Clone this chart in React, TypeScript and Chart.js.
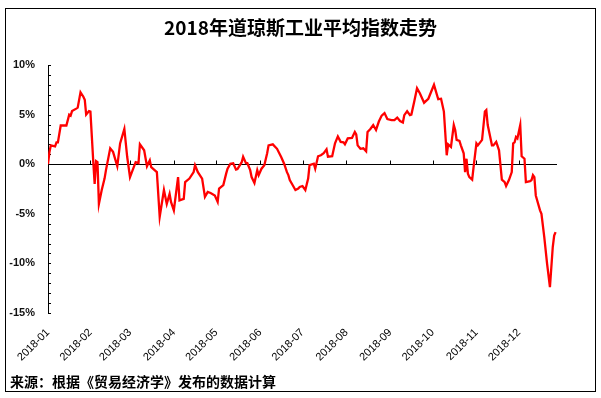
import React, { useEffect, useRef } from "react";
import { Chart, registerables } from "chart.js";

Chart.register(...registerables);

const chartTitle = "2018年道琼斯工业平均指数走势";
const sourceNote = "来源：根据《贸易经济学》发布的数据计算";

// x = day of year 2018 (Jan 1 = 1)
const monthStartDays = [2, 32, 60, 91, 121, 152, 182, 213, 244, 274, 305, 335];
const monthLabels = [
  "2018-01", "2018-02", "2018-03", "2018-04", "2018-05", "2018-06",
  "2018-07", "2018-08", "2018-09", "2018-10", "2018-11", "2018-12",
];
const yMin = -15;
const yMax = 10;
const xMin = 2;
const xMax = 362;

const tradeDays = [
  2, 3, 4, 7, 8, 9, 11, 15, 17, 18, 19, 22, 23, 25, 27, 28, 29, 31, 32, 33, 34, 35, 36, 37, 38, 40,
  42, 43, 46, 48, 51, 53, 56, 58, 60, 62, 64, 66, 67, 70, 72, 74, 75, 77, 79, 81, 84, 86, 88, 89,
  91, 94, 95, 98, 99, 102, 105, 106, 108, 111, 113, 115, 117, 120, 122, 123, 126, 128, 129, 131,
  133, 135, 136, 139, 140, 142, 143, 145, 146, 148, 150, 151, 153, 155, 157, 158, 161, 164, 167,
  169, 171, 172, 173, 175, 177, 179, 180, 182, 184, 186, 187, 190, 191, 193, 195, 197, 199, 200,
  203, 205, 207, 209, 211, 212, 214, 217, 219, 220, 221, 223, 225, 227, 228, 230, 232, 234, 236,
  238, 240, 242, 245, 247, 249, 251, 253, 254, 256, 258, 259, 261, 263, 265, 268, 271, 273, 275,
  278, 280, 282, 284, 285, 287, 289, 290, 291, 293, 294, 296, 297, 298, 299, 300, 302, 303, 305,
  306, 309, 311, 312, 313, 316, 317, 319, 321, 323, 325, 326, 328, 330, 331, 332, 333, 334, 336,
  337, 339, 340, 343, 344, 345, 346, 347, 350, 351, 353, 355, 357, 359, 360, 361,
];
const ytdChange = [
  0.0, 1.2, 1.9, 1.8, 2.2, 2.2, 3.9, 3.9, 5.0, 4.9, 5.35, 5.6, 5.7, 7.25, 6.8, 6.5, 5.0, 5.35, 5.3, 2.8, 0.3, -2.0, 0.3, 0.2, -4.0, -2.6,
  -1.45, -0.6, 1.6, 1.25, -0.2, 2.1, 3.55, 0.75, -1.3, -0.55, 0.2, 0.1, 2.0, 1.4, -0.2, 0.4, -0.3, -0.55, -0.8, -5.3, -2.6, -4.0, -3.0, -3.8,
  -4.65, -1.3, -3.65, -3.5, -1.8, -1.45, -0.8, -0.1, -0.8, -1.45, -3.3, -2.8, -2.9, -3.15, -3.8, -2.45, -2.1, -0.95, -0.45, 0.05,
  0.1, -0.55, -0.5, 0.2, 0.75, 0.1, 0.1, -0.6, -1.3, -1.9, -0.6, -1.1, -0.45, -0.1, 1.1, 1.9, 2.0, 1.55, 0.7,
  0.05, -0.8, -1.1, -1.6, -2.1, -2.6, -2.45, -2.3, -2.2, -2.6, -1.45, -0.1, 0.05, -0.45, 0.8, 0.9, 1.1, 1.5, 0.75,
  0.8, 2.1, 2.8, 2.25, 2.2, 2.0, 2.6, 2.65, 3.25, 3.0, 1.9, 1.55, 1.6, 1.3, 3.25, 3.55, 3.95, 3.45, 4.3,
  4.9, 5.15, 4.55, 4.45, 4.45, 4.7, 4.35, 4.2, 4.95, 5.35, 4.95, 5.0, 6.3, 7.65, 7.15, 6.2, 6.6, 7.3, 8.0,
  6.55, 6.6, 5.3, 0.9, 2.0, 1.75, 3.95, 3.45, 2.45, 2.35, 1.9, 1.1, -0.8, 0.55, -0.95, -1.3, -1.55, -0.3, 2.1,
  1.9, 2.45, 5.3, 5.45, 3.95, 1.9, 1.9, 2.25, 1.4, -1.55, -1.8, -2.2, -1.6, -0.8, 2.1, 2.2, 2.75, 2.6, 3.95,
  0.8, 0.55, -1.8, -1.7, -1.6, -1.1, -1.3, -3.15, -4.65, -5.0, -7.35, -10.05, -12.4, -8.35, -7.2, -6.85,
];

const axisMarks = {
  id: "axisMarks",
  beforeDatasetsDraw(chart: any) {
    const { ctx, chartArea, scales } = chart;
    const xs = scales.x;
    const ys = scales.y;
    const y0 = Math.round(ys.getPixelForValue(0)) + 0.5;
    ctx.save();
    ctx.strokeStyle = "#000";
    ctx.lineWidth = 1;
    ctx.beginPath();
    ctx.moveTo(chartArea.left, y0);
    ctx.lineTo(chartArea.right, y0);
    monthStartDays.forEach((d) => {
      const px = Math.round(xs.getPixelForValue(d)) + 0.5;
      ctx.moveTo(px, y0);
      ctx.lineTo(px, y0 - 4);
    });
    for (let v = yMin; v <= yMax; v++) {
      const py = Math.round(ys.getPixelForValue(v)) + 0.5;
      ctx.moveTo(chartArea.left, py);
      ctx.lineTo(chartArea.left + 3, py);
    }
    ctx.stroke();
    ctx.restore();
  },
};

export default function App() {
  const canvasRef = useRef<HTMLCanvasElement | null>(null);

  useEffect(() => {
    const canvas = canvasRef.current;
    if (!canvas) return;
    const points = tradeDays.map((d, i) => ({ x: d, y: ytdChange[i] }));
    const chart = new Chart(canvas, {
      type: "line",
      data: {
        datasets: [
          {
            data: points,
            borderColor: "#ff0000",
            borderWidth: 2.3,
            pointRadius: 0,
            tension: 0,
            fill: false,
          },
        ],
      },
      options: {
        animation: false,
        responsive: false,
        devicePixelRatio: 1,
        layout: { padding: { top: 65, right: 44, bottom: 0, left: 0 } },
        plugins: {
          legend: { display: false },
          title: { display: false },
          tooltip: { enabled: false },
        },
        scales: {
          x: {
            type: "linear",
            min: xMin,
            max: xMax,
            grid: { display: false, drawTicks: false },
            border: { display: false },
            afterBuildTicks: (scale: any) => {
              scale.ticks = monthStartDays.map((v) => ({ value: v }));
            },
            afterFit: (scale: any) => {
              scale.height = 85;
            },
            ticks: {
              autoSkip: false,
              minRotation: 45,
              maxRotation: 45,
              padding: 13,
              color: "#000",
              font: { family: "Liberation Sans", size: 11 },
              callback: (value: any) => {
                const i = monthStartDays.indexOf(Number(value));
                return i >= 0 ? monthLabels[i] : "";
              },
            },
          },
          y: {
            min: yMin,
            max: yMax,
            grid: { display: false, drawTicks: false },
            border: { display: true, color: "#000", width: 1 },
            afterFit: (scale: any) => {
              scale.width = 48;
            },
            ticks: {
              stepSize: 1,
              autoSkip: false,
              padding: 13,
              color: "#111",
              font: { family: "Liberation Sans", size: 11, weight: "bold" },
              callback: (value: any) => (Number(value) % 5 === 0 ? `${value}%` : ""),
            },
          },
        },
      },
      plugins: [axisMarks],
    });
    return () => chart.destroy();
  }, []);

  return (
    <div
      style={{
        position: "fixed",
        left: 0,
        top: 0,
        width: 601,
        height: 398,
        background: "#fff",
        overflow: "hidden",
      }}
    >
      <canvas
        ref={canvasRef}
        width={601}
        height={398}
        style={{ position: "absolute", left: 0, top: 0, width: 601, height: 398 }}
      />
      <div
        style={{
          position: "absolute",
          left: 5,
          top: 8,
          width: 591,
          height: 384,
          border: "1.5px solid #000",
          boxSizing: "border-box",
          pointerEvents: "none",
        }}
      />
      <div
        style={{
          position: "absolute",
          left: 0,
          top: 17,
          width: 601,
          textAlign: "center",
          fontFamily: "'Noto Sans CJK SC', sans-serif",
          fontWeight: "bold",
          fontSize: 19,
          lineHeight: "19px",
          color: "#000",
        }}
      >
        {chartTitle}
      </div>
      <div
        style={{
          position: "absolute",
          left: 10,
          top: 374,
          fontFamily: "'Noto Sans CJK SC', sans-serif",
          fontWeight: "bold",
          fontSize: 14,
          lineHeight: "14px",
          color: "#000",
          whiteSpace: "nowrap",
        }}
      >
        {sourceNote}
      </div>
    </div>
  );
}
